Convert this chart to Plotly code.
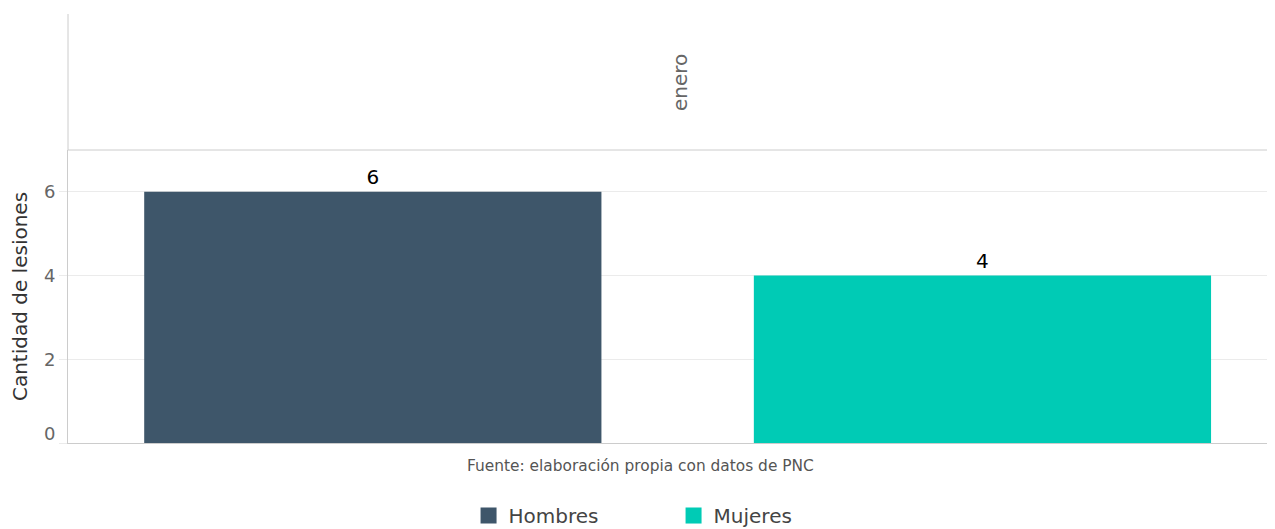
import plotly.graph_objects as go

categories = ["Hombres", "Mujeres"]
values = [6, 4]
colors = ["#3E566A", "#00CBB5"]
facet_label = "enero"
y_ticks = [0, 2, 4, 6]
y_title = "Cantidad de lesiones"
source = "Fuente: elaboración propia con datos de PNC"

FONT = "DejaVu Sans"
W, H = 1275, 529
ML, MR, MT, MB = 60, 0, 142, 94
plot_w = W - ML - MR
plot_h = H - MT - MB
strip_top = (plot_h + MT - 6) / plot_h

fig = go.Figure()
for cat, val, col in zip(categories, values, colors):
    fig.add_trace(go.Bar(
        x=[cat], y=[val], name=cat, marker=dict(color=col, line=dict(width=0)),
        width=0.75, text=[str(val)], textposition="outside",
        textfont=dict(family=FONT, size=20, color="#000000"),
        cliponaxis=False, showlegend=False, hoverinfo="x+y",
    ))
    fig.add_trace(go.Scatter(
        x=[None], y=[None], mode="markers", name=cat,
        marker=dict(symbol="square", size=24, color=col), showlegend=True,
    ))

# tick labels: all but the lowest drawn by the axis; the lowest sits slightly raised
tick_text = ["" if t == y_ticks[0] else str(t) for t in y_ticks]

fig.update_layout(
    width=W, height=H,
    margin=dict(l=ML, r=MR, t=MT, b=MB, autoexpand=False),
    paper_bgcolor="white", plot_bgcolor="white",
    font=dict(family=FONT),
    legend=dict(
        orientation="h", x=0.4984, xanchor="center",
        y=-0.181, yanchor="top",
        font=dict(family=FONT, size=20, color="#444444"),
        itemsizing="trace", entrywidth=160, traceorder="normal",
    ),
    xaxis=dict(
        range=[-0.5, 1.493], showticklabels=False, ticks="", showgrid=False,
        showline=True, linecolor="#CCCCCC", linewidth=1, zeroline=False,
        fixedrange=True,
    ),
    yaxis=dict(
        range=[0, 7], tickvals=y_ticks, ticktext=tick_text,
        tickfont=dict(family=FONT, size=18, color="#666666"),
        ticks="outside", ticklen=8, tickcolor="#EBEBEB",
        showgrid=True, gridcolor="#EBEBEB", gridwidth=1, zeroline=False,
        showline=True, linecolor="#CCCCCC", linewidth=1,
        title=dict(text=y_title, font=dict(family=FONT, size=20, color="#333333"), standoff=10),
        fixedrange=True,
    ),
    shapes=[
        dict(type="line", xref="paper", yref="paper", x0=0, x1=1, y0=1, y1=1,
             line=dict(color="#CCCCCC", width=1)),
        dict(type="line", xref="paper", yref="paper", x0=0, x1=0, y0=1, y1=strip_top,
             line=dict(color="#CCCCCC", width=1)),
    ],
    annotations=[
        dict(text=str(y_ticks[0]), xref="paper", yref="y", x=0, y=y_ticks[0],
             xshift=-11, yshift=10, showarrow=False, xanchor="right", yanchor="middle",
             font=dict(family=FONT, size=18, color="#666666")),
        dict(text=facet_label, xref="paper", yref="paper", x=(672 - ML) / plot_w,
             y=(1 + strip_top) / 2,
             showarrow=False, textangle=-90, xanchor="center", yanchor="middle",
             font=dict(family=FONT, size=20, color="#666666")),
        dict(text=source, xref="paper", yref="paper", x=(632 - ML) / plot_w, y=-0.077,
             showarrow=False, xanchor="center", yanchor="middle",
             font=dict(family=FONT, size=15.4, color="#555555")),
    ],
)

fig.write_html("out.html", config={"displayModeBar": False})
